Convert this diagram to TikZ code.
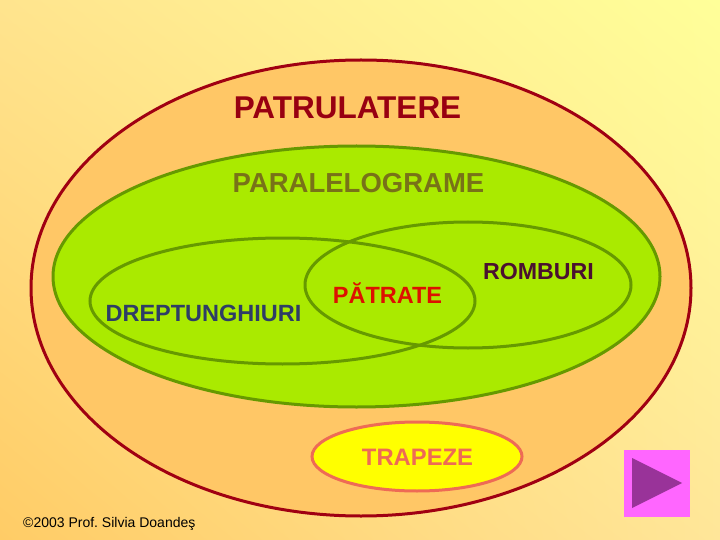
\documentclass[tikz,border=0pt]{standalone}
\usepackage{fontspec}
\setmainfont{Liberation Sans}
\usepackage{xcolor}
\usetikzlibrary{shapes.geometric,shadings}

\definecolor{fundsus}{HTML}{FFE48E}
\definecolor{funddreapta}{HTML}{FFFF99}
\definecolor{fundjos}{HTML}{FFCC66}
\definecolor{fundcolt}{HTML}{FFE699}
\definecolor{portocaliu}{HTML}{FFC766}
\definecolor{rosuinchis}{HTML}{A00012}
\definecolor{verde}{HTML}{AAEA00}
\definecolor{verdeinchis}{HTML}{669900}
\definecolor{galben}{HTML}{FFFF00}
\definecolor{somon}{HTML}{EE6B55}
\definecolor{roz}{HTML}{FF66FF}
\definecolor{mov}{HTML}{993399}

\begin{document}
\begin{tikzpicture}[x=1pt,y=-1pt]
	\tikzstyle{zona}=[ellipse, inner sep=0pt, line width=3pt]
	\tikzstyle{eticheta}=[anchor=base, inner sep=0pt]

	\shade[upper left=fundsus, upper right=funddreapta, lower left=fundjos, lower right=fundcolt] (0,0) rectangle (720,540);
	\useasboundingbox (0,0) rectangle (720,540);

	\node[zona, draw=rosuinchis, fill=portocaliu, minimum width=660pt, minimum height=456pt] (patrulatere) at (361,288) {};
	\node[zona, draw=verdeinchis, fill=verde, minimum width=607pt, minimum height=261pt] (paralelograme) at (356.5,276.5) {};
	\node[zona, draw=verdeinchis, minimum width=385pt, minimum height=126pt] (dreptunghiuri) at (282.5,301) {};
	\node[zona, draw=verdeinchis, minimum width=326pt, minimum height=126pt] (romburi) at (468,285) {};
	\node[zona, draw=somon, fill=galben, minimum width=210pt, minimum height=69pt] (trapeze) at (417,456.5) {};

	\node[eticheta, text=rosuinchis!95!black, font=\fontsize{31.5}{31.5}\selectfont\bfseries] (tpatrulatere) at (347.5,119) {PATRULATERE};
	\node[eticheta, text=olive!80!black, font=\fontsize{27.5}{27.5}\selectfont\bfseries] (tparalelograme) at (358.5,193) {PARALELOGRAME};
	\node[eticheta, text={rgb,255:red,46;green,61;blue,102}, font=\fontsize{23.5}{23.5}\selectfont\bfseries] (tdreptunghiuri) at (203.5,321) {DREPTUNGHIURI};
	\node[eticheta, text={rgb,255:red,221;green,17;blue,0}, font=\fontsize{23.5}{23.5}\selectfont\bfseries] (tpatrate) at (387.5,303) {PĂTRATE};
	\node[eticheta, text={rgb,255:red,74;green,16;blue,48}, font=\fontsize{23.2}{23.2}\selectfont\bfseries] (tromburi) at (538.5,279) {ROMBURI};
	\node[eticheta, text=somon, font=\fontsize{23.8}{23.8}\selectfont\bfseries] (ttrapeze) at (417.5,465) {TRAPEZE};

	\node[anchor=base west, inner sep=0pt, font=\fontsize{14}{14}\selectfont] (autor) at (23,527) {©2003 Prof.\ Silvia Doandeş};

	\node[fill=roz, minimum width=66pt, minimum height=67pt, inner sep=0pt] (buton) at (657,483.5) {};
	\fill[mov] (632,458) -- (682,483) -- (632,508) -- cycle;
\end{tikzpicture}
\end{document}
